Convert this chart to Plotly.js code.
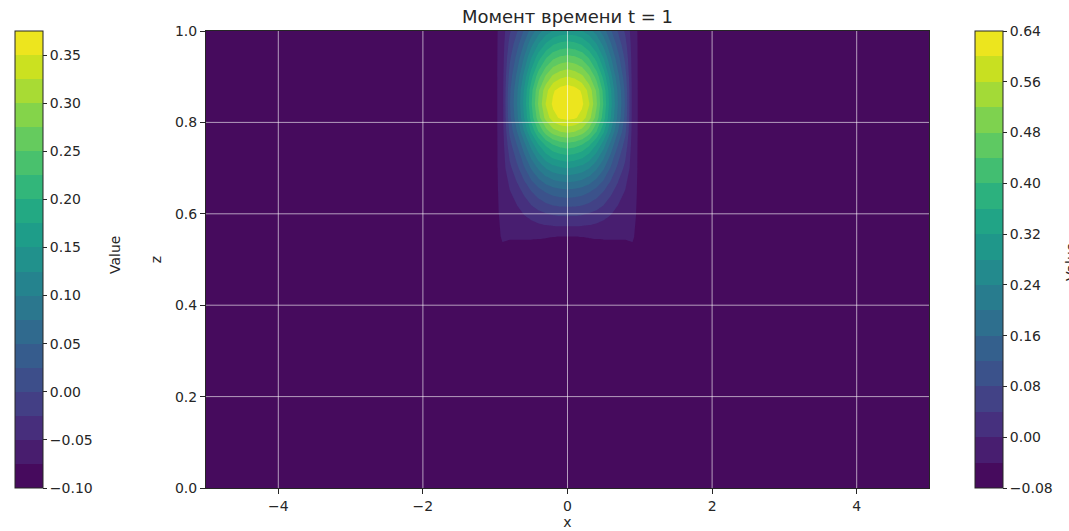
<!DOCTYPE html>
<html>
<head>
<meta charset="utf-8">
<script src="https://cdn.plot.ly/plotly-3.0.1.min.js"></script>
<style>
  html, body { margin: 0; padding: 0; background: #ffffff; }
  #chart { width: 1069px; height: 531px; }
</style>
</head>
<body>
<div id="chart"></div>
<script>
// ---------------- data ----------------
const xValues = [-5, -1.0, -0.9, -0.8, -0.7, -0.6, -0.5, -0.4, -0.3, -0.2, -0.1, 0, 0.1, 0.2, 0.3, 0.4, 0.5, 0.6, 0.7, 0.8, 0.9, 1.0, 5];
const zValues = [0, 0.5, 0.55, 0.6, 0.65, 0.7, 0.75, 0.78, 0.81, 0.84, 0.87, 0.9, 0.94, 0.97, 1.0];
const fieldValues = [
  [-0.05, -0.05, -0.05, -0.05, -0.05, -0.05, -0.05, -0.05, -0.05, -0.05, -0.05, -0.05, -0.05, -0.05, -0.05, -0.05, -0.05, -0.05, -0.05, -0.05, -0.05, -0.05, -0.05],
  [-0.05, -0.05, -0.05, -0.05, -0.05, -0.05, -0.05, -0.05, -0.05, -0.05, -0.05, -0.05, -0.05, -0.05, -0.05, -0.05, -0.05, -0.05, -0.05, -0.05, -0.05, -0.05, -0.05],
  [-0.05, -0.05, -0.037, -0.0385, -0.0385, -0.0385, -0.0385, -0.0388, -0.0393, -0.0398, -0.0402, -0.0405, -0.0402, -0.0398, -0.0393, -0.0388, -0.0385, -0.0385, -0.0385, -0.0385, -0.037, -0.05, -0.05],
  [-0.05, -0.05, -0.030, -0.026, -0.014, 0.002, 0.015, 0.028, 0.038, 0.045, 0.049, 0.050, 0.049, 0.045, 0.038, 0.028, 0.015, 0.002, -0.014, -0.026, -0.030, -0.05, -0.05],
  [-0.05, -0.05, -0.025, -0.002, 0.022, 0.050, 0.081, 0.106, 0.126, 0.140, 0.147, 0.150, 0.147, 0.140, 0.126, 0.106, 0.081, 0.050, 0.022, -0.002, -0.025, -0.05, -0.05],
  [-0.05, -0.05, -0.020, 0.029, 0.069, 0.115, 0.165, 0.207, 0.242, 0.264, 0.275, 0.282, 0.275, 0.264, 0.242, 0.207, 0.165, 0.115, 0.069, 0.029, -0.020, -0.05, -0.05],
  [-0.05, -0.05, -0.018, 0.063, 0.119, 0.185, 0.256, 0.317, 0.364, 0.397, 0.413, 0.420, 0.413, 0.397, 0.364, 0.317, 0.256, 0.185, 0.119, 0.063, -0.018, -0.05, -0.05],
  [-0.05, -0.05, -0.016, 0.089, 0.159, 0.241, 0.327, 0.402, 0.460, 0.501, 0.521, 0.530, 0.521, 0.501, 0.460, 0.402, 0.327, 0.241, 0.159, 0.089, -0.016, -0.05, -0.05],
  [-0.05, -0.05, -0.015, 0.108, 0.188, 0.281, 0.379, 0.465, 0.535, 0.585, 0.606, 0.612, 0.606, 0.585, 0.535, 0.465, 0.379, 0.281, 0.188, 0.108, -0.015, -0.05, -0.05],
  [-0.05, -0.05, -0.015, 0.115, 0.197, 0.293, 0.396, 0.487, 0.562, 0.608, 0.630, 0.638, 0.630, 0.608, 0.562, 0.487, 0.396, 0.293, 0.197, 0.115, -0.015, -0.05, -0.05],
  [-0.05, -0.05, -0.015, 0.111, 0.191, 0.285, 0.386, 0.475, 0.545, 0.595, 0.617, 0.625, 0.617, 0.595, 0.545, 0.475, 0.386, 0.285, 0.191, 0.111, -0.015, -0.05, -0.05],
  [-0.05, -0.05, -0.016, 0.096, 0.170, 0.255, 0.347, 0.426, 0.487, 0.530, 0.551, 0.561, 0.551, 0.530, 0.487, 0.426, 0.347, 0.255, 0.170, 0.096, -0.016, -0.05, -0.05],
  [-0.05, -0.05, -0.017, 0.072, 0.134, 0.205, 0.282, 0.348, 0.399, 0.435, 0.452, 0.460, 0.452, 0.435, 0.399, 0.348, 0.282, 0.205, 0.134, 0.072, -0.017, -0.05, -0.05],
  [-0.05, -0.05, -0.018, 0.053, 0.105, 0.165, 0.230, 0.285, 0.328, 0.359, 0.374, 0.380, 0.374, 0.359, 0.328, 0.285, 0.230, 0.165, 0.105, 0.053, -0.018, -0.05, -0.05],
  [-0.05, -0.05, -0.020, 0.034, 0.076, 0.125, 0.178, 0.223, 0.258, 0.283, 0.295, 0.300, 0.295, 0.283, 0.258, 0.223, 0.178, 0.125, 0.076, 0.034, -0.020, -0.05, -0.05]
];

// contour levels of the right colour bar (current field)
const rightLevelStart = -0.08;
const rightLevelEnd = 0.64;
const rightLevelStep = 0.04;
const rightTicks = [-0.08, 0.00, 0.08, 0.16, 0.24, 0.32, 0.40, 0.48, 0.56, 0.64];

// left colour bar (earlier field)
const leftLevelStart = -0.10;
const leftLevelEnd = 0.375;
const leftLevelStep = 0.025;
const leftTicks = [-0.10, -0.05, 0.00, 0.05, 0.10, 0.15, 0.20, 0.25, 0.30, 0.35];

const xTicks = [-4, -2, 0, 2, 4];
const yTicks = [0.0, 0.2, 0.4, 0.6, 0.8, 1.0];
const yGrid = [0.2, 0.4, 0.6, 0.8];

const titleText = 'Момент времени t = 1';
const colorbarLabel = 'Value';

// ---------------- styling helpers ----------------
const viridisStops = ['#440154','#471365','#482475','#463480','#414487','#3b528b','#355f8d','#2f6c8e',
  '#2a788e','#25848e','#21918c','#1e9c89','#22a884','#2fb47c','#44bf70','#5ec962','#7ad151',
  '#9bd93c','#bddf26','#dfe318','#fde725'];
function hexToRgb(h){ return [parseInt(h.substr(1,2),16), parseInt(h.substr(3,2),16), parseInt(h.substr(5,2),16)]; }
function viridisAt(t){
  t = Math.max(0, Math.min(1, t));
  const p = t * (viridisStops.length - 1);
  const i = Math.min(Math.floor(p), viridisStops.length - 2);
  const f = p - i;
  const a = hexToRgb(viridisStops[i]), b = hexToRgb(viridisStops[i+1]);
  const c = a.map((v, k) => Math.round(v + (b[k] - v) * f));
  return 'rgb(' + c.join(',') + ')';
}
// colour scale for a plotly filled contour so band i gets matplotlib's viridis((i+0.5)/nBands)
function contourScale(nLevels){
  const nBands = nLevels - 1;
  const s = [[0, viridisAt(0)]];
  for (let k = 1; k <= nBands; k++) s.push([k / nLevels, viridisAt((k - 0.5) / nBands)]);
  s.push([1, viridisAt(1)]);
  return s;
}
// stepped colour scale for a colour bar with nBands bands
function steppedScale(nBands){
  const s = [];
  for (let i = 0; i < nBands; i++) {
    const c = viridisAt((i + 0.5) / nBands);
    s.push([i / nBands, c]);
    s.push([(i + 1) / nBands, c]);
  }
  return s;
}

const W = 1069, H = 531;
const plotL = 206, plotR = 929, plotT = 31, plotB = 488;
const plotW = plotR - plotL, plotH = plotB - plotT;
const px2paperX = px => (px - plotL) / plotW;
const py2paperY = py => (plotB - py) / plotH;

const rightNLevels = Math.round((rightLevelEnd - rightLevelStart) / rightLevelStep) + 1;
const leftNLevels = Math.round((leftLevelEnd - leftLevelStart) / leftLevelStep) + 1;

const inkColor = '#262626';
const fontFamily = 'DejaVu Sans, Verdana, sans-serif';

function cbar(xPx){
  return {
    x: px2paperX(xPx), xref: 'paper', xanchor: 'left', xpad: 0,
    y: 0.5, yanchor: 'middle', ypad: 0, len: 1, lenmode: 'fraction',
    thickness: 28, thicknessmode: 'pixels',
    outlinewidth: 1, outlinecolor: inkColor,
    ticks: 'outside', ticklen: 4, tickwidth: 1, tickcolor: inkColor,
    tickfont: {family: fontFamily, size: 14, color: inkColor},
    tickformat: '.2f'
  };
}

const traces = [
  {
    type: 'contour',
    x: xValues, y: zValues, z: fieldValues,
    autocontour: false,
    contours: {start: rightLevelStart, end: rightLevelEnd, size: rightLevelStep, coloring: 'fill', showlines: false},
    line: {width: 0, smoothing: 0},
    colorscale: contourScale(rightNLevels),
    showscale: false,
    hoverinfo: 'skip'
  },
  { // right colour bar (current field), invisible carrier
    type: 'heatmap',
    x: xValues, y: zValues, z: fieldValues,
    zmin: rightLevelStart, zmax: rightLevelEnd,
    colorscale: steppedScale(rightNLevels - 1),
    opacity: 0, hoverinfo: 'skip',
    showscale: true,
    colorbar: Object.assign(cbar(975), {tickvals: rightTicks})
  },
  { // left colour bar (earlier field), invisible carrier
    type: 'heatmap',
    x: xValues, y: zValues, z: fieldValues,
    zmin: leftLevelStart, zmax: leftLevelEnd,
    colorscale: steppedScale(leftNLevels - 1),
    opacity: 0, hoverinfo: 'skip',
    showscale: true,
    colorbar: Object.assign(cbar(15), {tickvals: leftTicks})
  }
];

const gridColor = 'rgba(255,255,255,0.6)';
const shapes = [];
xTicks.forEach(v => shapes.push({type: 'line', layer: 'above', xref: 'x', yref: 'paper', x0: v, x1: v, y0: 0, y1: 1, line: {color: gridColor, width: 1}}));
yGrid.forEach(v => shapes.push({type: 'line', layer: 'above', xref: 'paper', yref: 'y', x0: 0, x1: 1, y0: v, y1: v, line: {color: gridColor, width: 1}}));

const axisCommon = {
  showline: true, mirror: true, linecolor: inkColor, linewidth: 1,
  ticks: 'outside', ticklen: 5, tickwidth: 1, tickcolor: inkColor,
  showgrid: false, zeroline: false, fixedrange: true,
  tickfont: {family: fontFamily, size: 14, color: inkColor}
};

const layout = {
  width: W, height: H,
  margin: {l: plotL, r: W - plotR, t: plotT, b: H - plotB, pad: 0},
  paper_bgcolor: '#ffffff', plot_bgcolor: '#ffffff',
  font: {family: fontFamily, size: 14, color: inkColor},
  showlegend: false,
  title: {text: titleText, font: {family: fontFamily, size: 18, color: inkColor},
          x: 0.5, xref: 'paper', xanchor: 'center', y: 1 - 17 / H, yref: 'container', yanchor: 'middle'},
  xaxis: Object.assign({}, axisCommon, {range: [-5, 5], tickvals: xTicks, tickformat: 'd',
          title: {text: 'x', font: {family: fontFamily, size: 14, color: inkColor}, standoff: 4}}),
  yaxis: Object.assign({}, axisCommon, {range: [0, 1], tickvals: yTicks, tickformat: '.1f',
          title: {text: 'z', font: {family: fontFamily, size: 14, color: inkColor}, standoff: 10}}),
  shapes: shapes,
  annotations: [
    {text: colorbarLabel, textangle: -90, showarrow: false, xref: 'paper', yref: 'paper',
     x: px2paperX(115), y: py2paperY(255), xanchor: 'center', yanchor: 'middle',
     font: {family: fontFamily, size: 14, color: inkColor}},
    {text: colorbarLabel, textangle: -90, showarrow: false, xref: 'paper', yref: 'paper',
     x: px2paperX(1071), y: py2paperY(262), xanchor: 'center', yanchor: 'middle',
     font: {family: fontFamily, size: 14, color: inkColor}}
  ]
};

Plotly.newPlot('chart', traces, layout, {staticPlot: true, displayModeBar: false});
</script>
</body>
</html>
